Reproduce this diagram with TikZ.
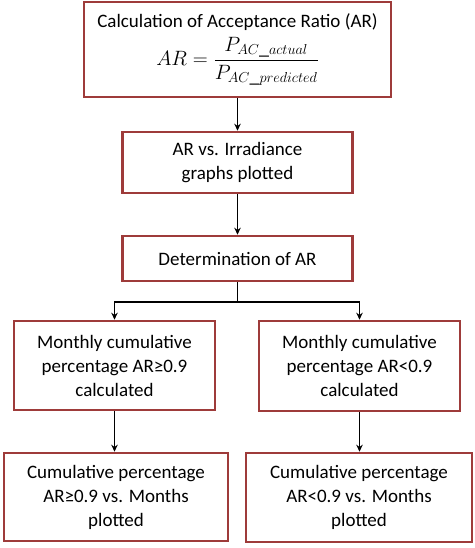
\documentclass[tikz,border=0pt]{standalone}
\usepackage{fontspec}
\setmainfont{Carlito}
\usetikzlibrary{arrows.meta}
\definecolor{boxred}{HTML}{9E3B3A}
\begin{document}
\begin{tikzpicture}[x=1pt,y=-1pt,
  flowbox/.style={draw=boxred,line width=2.6pt,fill=white,align=center,inner sep=0pt,
    font=\fontsize{19}{24}\selectfont},
  conn/.style={line width=1.1pt,-{Stealth[length=7pt,width=6.5pt]}}]
\useasboundingbox (0,0) rectangle (474,548);
\node[flowbox,minimum width=307pt,minimum height=95pt] (b1) at (237.5,49.5)
  {Calculation of Acceptance Ratio (AR)\\[6pt]
   \fontsize{20}{24}\selectfont$\displaystyle AR=\frac{P_{AC\_actual}}{P_{AC\_predicted}}$};
\node[flowbox,minimum width=230pt,minimum height=61pt] (b2) at (237.5,162.5)
  {AR vs. Irradiance\\graphs plotted};
\node[flowbox,minimum width=230pt,minimum height=45pt] (b3) at (237.5,258.5)
  {Determination of AR};
\node[flowbox,minimum width=201pt,minimum height=89pt] (b4) at (114.5,365.5)
  {Monthly cumulative\\percentage AR≥0.9\\calculated};
\node[flowbox,minimum width=201pt,minimum height=90pt] (b5) at (359.5,366)
  {Monthly cumulative\\percentage AR<0.9\\calculated};
\node[flowbox,minimum width=224pt,minimum height=88pt] (b6) at (116,497)
  {Cumulative percentage\\AR≥0.9 vs. Months\\plotted};
\node[flowbox,minimum width=226pt,minimum height=89pt] (b7) at (359,497.5)
  {Cumulative percentage\\AR<0.9 vs. Months\\plotted};
\draw[conn] (b1.south) -- (b1.south |- b2.north);
\draw[conn] (b2.south) -- (b2.south |- b3.north);
\draw[line width=1.1pt] (b3.south) -- (b3.south |- 0,302) coordinate (split);
\draw[conn] (split) -| (b4.north);
\draw[conn] (split) -| (b5.north);
\draw[conn] (b4.south) -- (b4.south |- b6.north);
\draw[conn] (b5.south) -- (b5.south |- b7.north);
\end{tikzpicture}
\end{document}
